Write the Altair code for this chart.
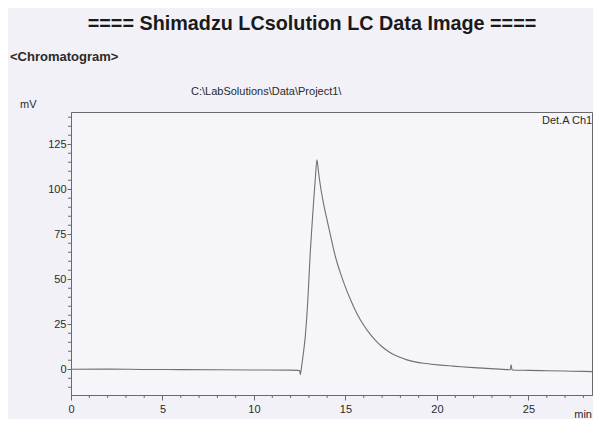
import altair as alt
import pandas as pd

# ---- data ----
times = [0, 2, 4, 6, 8, 10, 12, 12.4, 12.5, 12.53, 12.6, 12.7, 12.8, 12.95, 13.07,
         13.17, 13.25, 13.35, 13.44, 13.52, 13.62, 13.8, 14.0, 14.17, 14.45, 14.72,
         15.0, 15.26, 15.5, 15.81, 16.2, 16.54, 17.0, 17.45, 17.9, 18.36, 18.8, 19.27,
         19.7, 20.2, 20.8, 21.3, 22.0, 22.7, 23.4, 24.0, 24.05, 24.1, 25, 26, 27, 28, 28.47]
signal = [0, 0.1, -0.1, -0.2, -0.3, -0.4, -0.5, -0.6, -0.8, -3.0, 1.5, 9, 18, 40, 64,
          80, 92, 106, 116.3, 110, 102.5, 92, 82.5, 74.8, 62.5, 53.5,
          45.5, 39, 33.5, 27.5, 21.5, 17.2, 12.5, 9.2, 6.9, 5.2, 4.1, 3.3,
          2.8, 2.3, 1.8, 1.4, 0.9, 0.5, 0.1, -0.3, 2.5, -0.4, -0.6, -0.8, -1.0, -1.2, -1.3]

x_major = [0, 5, 10, 15, 20, 25]
x_minor = [m for m in range(0, 29) if m % 5 != 0]
y_major = [0, 25, 50, 75, 100, 125]
y_minor = [v for v in range(-10, 145, 5) if v % 25 != 0]

x_domain = [0, 28.47]
y_domain = [-14.3, 142.9]

title_text = ["==== Shimadzu LCsolution LC Data Image ===="]
section_text = ["<Chromatogram>"]
path_text = ["C:\\LabSolutions\\Data\\Project1\\"]
yunit_text = ["mV"]
channel_text = ["Det.A Ch1"]
xunit_text = ["min"]

W, H = 521, 283
FONT = "Liberation Sans"
GRAY = "#6a6a6a"
TXT = "#2a2a2a"

df = pd.DataFrame({"t": times, "v": signal})

xs = alt.Scale(domain=x_domain, nice=False, zero=False)
ys = alt.Scale(domain=y_domain, nice=False, zero=False)

x_axis = alt.Axis(values=x_major, title=None, grid=False, tickSize=5, labelPadding=3,
                  domainColor=GRAY, tickColor=GRAY, labelColor=TXT, labelFont=FONT,
                  labelFontSize=11, labelFlush=False)
y_axis = alt.Axis(values=y_major, title=None, grid=False, tickSize=4, labelPadding=1,
                  domainColor=GRAY, tickColor=GRAY, labelColor=TXT, labelFont=FONT,
                  labelFontSize=11)

line = alt.Chart(df).mark_line(color="#707070", strokeWidth=1.1, interpolate="monotone").encode(
    x=alt.X("t:Q", scale=xs, axis=x_axis, title=None),
    y=alt.Y("v:Q", scale=ys, axis=y_axis, title=None),
)

ymin = alt.Chart(pd.DataFrame({"v": y_minor})).mark_rule(color=GRAY, strokeWidth=1).encode(
    y=alt.Y("v:Q", scale=ys, axis=y_axis, title=None), x=alt.value(-3), x2=alt.value(1))

xmin = alt.Chart(pd.DataFrame({"t": x_minor})).mark_rule(color=GRAY, strokeWidth=1).encode(
    x=alt.X("t:Q", scale=xs, axis=x_axis, title=None), y=alt.value(H), y2=alt.value(H + 3))


def label(texts, x, y, size, weight="normal", align="left", color=TXT):
    return alt.Chart(pd.DataFrame({"s": texts})).mark_text(
        font=FONT, fontSize=size, fontWeight=weight, align=align,
        baseline="alphabetic", color=color).encode(
        x=alt.value(x), y=alt.value(y), text="s:N")


texts = [
    label(title_text, 241, -82, 19.8, "bold", "center", "#1a1a1a"),
    label(section_text, -61, -51, 13, "bold"),
    label(path_text, 120, -17, 11),
    label(yunit_text, -51, -4, 11),
    label(channel_text, 471, 12, 11),
    label(xunit_text, 521, 306, 11, align="right"),
]

chart = alt.layer(line, ymin, xmin, *texts).properties(
    width=W, height=H,
    autosize=alt.AutoSizeParams(type="none"),
    padding={"left": 63, "top": 104, "right": 1, "bottom": 24},
    background="#f2f1f7",
).configure_view(stroke=GRAY, strokeWidth=1, fill="#f6f5fa")

chart.save("out.html", embed_options={"renderer": "svg", "actions": False})
